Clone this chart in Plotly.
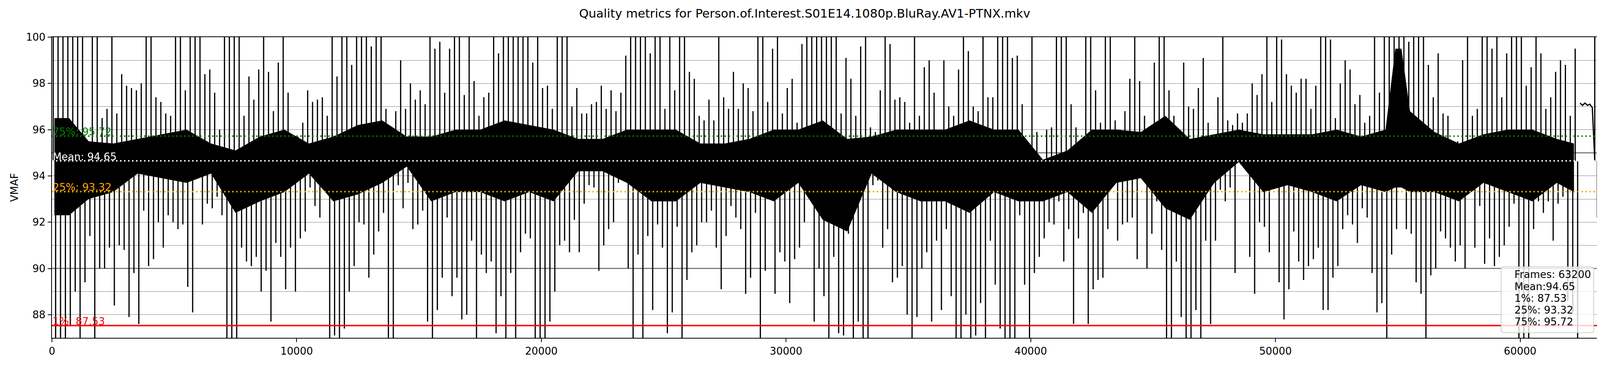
import plotly.graph_objects as go

# VMAF per frame, summarised as the highest / lowest score inside each 200-frame bin
BIN_FRAMES = 200
vmaf_hi = [
    100, 100, 100, 100, 100, 100, 100, 95.5, 100, 100, 96.5, 96.9, 100, 96.7, 98.4, 97.9, 97.8,
    97.7, 98, 100, 100, 97.4, 97.2, 96.7, 96.6, 100, 100, 97.7, 100, 100, 100, 98.4, 98.6, 97.6,
    96.0, 100, 100, 100, 100, 96.6, 98.3, 97.3, 98.6, 100, 98.5, 96.8, 98.9, 100, 97.6, 95.5,
    95.7, 96.3, 97.7, 97.2, 97.3, 97.4, 96.6, 100, 98.3, 100, 100, 98.8, 100, 100, 100, 99.6,
    100, 100, 96.9, 96.1,
    96.8, 99.0, 96.9, 98.0, 97.3, 97.7, 97.1, 100, 99.5, 99.8, 97.6, 99.5, 100, 100, 97.5, 100,
    98.1, 96.6, 97.4, 97.6, 100, 99.3, 100, 100, 100, 100, 100, 100, 98.9, 100, 97.8, 97.9,
    96.9, 100, 100,
    100, 97, 97.8, 96.7, 96.7, 97.1, 97.2, 97.9, 96.9, 97.7, 96.8, 97.6, 99.2, 100, 100, 100,
    100, 99.3, 100, 100, 96.9, 100, 97.7, 100, 100, 98.5, 98.2, 96.6, 96.4, 97.3, 96.4, 100,
    97.4, 96.9, 98.5,
    96.9, 98.0, 97.8, 96.8, 100, 100, 97.2, 99.5, 100, 96.7, 97.8, 98.2, 96.3, 99.7, 100, 100,
    100, 100, 100, 100, 100, 96.7, 99.1, 98.2, 96.6, 99.6, 100, 96.1, 95.9, 97.7, 100, 99.7,
    97.3, 97.4, 97.2,
    96.3, 100, 96.6, 98.7, 99.0, 97.6, 95.5, 99.0, 97.0, 96.6, 98.6, 100, 99.4, 97.0, 96.8, 100,
    97.4, 97.4, 100, 100, 100, 99.1, 99.2, 97.1, 95.4, 100, 95.9, 94.6, 96.0, 96.1, 100, 100,
    100, 97.1, 96.1, 95.5,
    100, 100, 97.7, 96.3, 100, 100, 96.4, 96.0, 96.8, 98.2, 100, 98.1, 96.6, 96.1, 98.9, 100,
    100, 97.7, 96.6, 96.0, 98.9, 97.0, 96.9, 97.8, 99.1, 96.3, 95.3, 97.4, 100, 96.4, 96.2,
    96.7, 96.3, 96.7, 98.0,
    97.5, 98.4, 100, 97.2, 100, 99.9, 98.4, 97.9, 97.6, 98.2, 98.2, 96.9, 97.9, 100, 100, 99.9,
    96.5, 98.0, 99.0, 98.6, 97.1, 97.5, 96.3, 96.6, 100, 97.6, 100, 100, 100, 100, 100, 99.8,
    100, 100, 100,
    98.8, 97.4, 99.3, 96.7, 96.6, 95.0, 95.5, 99.0, 100, 96.6, 96.9, 100, 100, 99.5, 100, 97.4,
    99.3, 100, 100, 100, 97.9, 98.7, 100, 99.3, 96.9, 97.4, 98.5, 99.0, 98.8, 96.6, 99.5,
    97.15, 97.15, 97.1, 100,
]
vmaf_lo = [
    86.5, 86.8, 86.5, 87.5, 89, 86.5, 89.4, 91.4, 86.5, 90, 90, 90.9, 88.4, 91, 90.8, 87.9, 89.8,
    87.6, 92.5, 90.1, 90.4, 92, 90.9, 92.3, 92, 91.7, 91.9, 89.2, 88.1, 94.0, 91.9, 92.8, 92.6,
    93.1,
    92.3, 86.8, 86.8, 86.8, 90.9, 90.3, 90.1, 90.5, 89.0, 89.9, 87.7, 91.1, 90.5, 89.1, 90.9,
    89.0, 91.3, 91.6, 93.5, 92.7, 92.2, 94.8, 86.8, 87.1, 86.8, 87.4, 89.0, 90.1, 92.0, 91.9,
    89.6, 90.6, 91.6, 92.4, 86.8, 86.8,
    93.6, 92.6, 93.7, 91.7, 91.9, 92.5, 87.7, 86.8, 88.2, 89.6, 92.2, 88.8, 89.6, 87.8, 88.0,
    91.2, 86.8, 90.6, 89.8, 90.3, 87.2, 88.8, 86.8, 89.8, 86.8, 90.7, 91.5, 91.3, 86.8, 87.0,
    86.8, 87.7, 89.0, 91.0, 91.2,
    90.7, 92.1, 90.7, 92.8, 93.6, 93.5, 89.9, 91.0, 91.7, 92.0, 93.7, 94.2, 90.0, 86.8, 90.6,
    86.8, 91.4, 88.2, 91.9, 90.9, 87.2, 88.1, 91.8, 86.8, 89.5, 90.7, 91.0, 92.0, 92.0, 92.5,
    90.9, 89.1, 91.4, 92.7, 92.2,
    91.7, 88.9, 89.6, 92.4, 86.8, 89.9, 93.3, 88.9, 90.7, 90.3, 88.5, 90.4, 90.9, 92.0, 93.0,
    87.7, 90.0, 88.8, 86.8, 90.5, 87.2, 87.1, 91.5, 86.8, 87.7, 86.8, 86.8, 93.6, 93.8, 90.9,
    91.7, 89.4, 89.6, 90.1, 88.0,
    86.8, 87.9, 90.0, 90.7, 87.7, 91.2, 88.2, 91.7, 88.8, 86.8, 86.8, 88.0, 87.0, 87.1, 88.5,
    86.8, 91.2, 89.3, 87.4, 86.8, 86.8, 86.8, 92.3, 89.3, 86.8, 89.8, 90.5, 91.3, 92.0, 91.9,
    92.9, 90.3, 91.7, 87.6, 91.3, 92.4,
    87.6, 89.1, 89.5, 89.6, 91.7, 93.8, 91.2, 91.9, 92.0, 92.2, 90.4, 94.2, 90.0, 91.5, 92.9,
    90.8, 86.8, 86.8, 90.3, 87.9, 86.8, 86.8, 88.2, 86.8, 91.2, 87.6, 91.2, 93.4, 92.9, 93.5,
    89.8, 94.7, 94.4, 90.5, 88.9,
    92.0, 91.8, 90.7, 94.5, 89.4, 87.8, 89.1, 91.6, 90.3, 89.5, 90.1, 90.4, 90.9, 88.2, 88.2,
    89.6, 90.1, 91.7, 92.3, 91.9, 91.1, 92.6, 92.2, 89.8, 88.1, 88.5, 86.8, 90.6, 91.7, 93.5,
    91.7, 91.5, 89.4, 88.9, 86.8,
    89.7, 90.0, 91.6, 91.3, 90.9, 90.3, 91.0, 90.0, 94.0, 90.9, 92.7, 90.2, 91.3, 90.1, 90.5,
    91.0, 91.8, 92.8, 86.8, 86.8, 86.8, 91.7, 92.9, 92.4, 92.9, 91.2, 92.8, 93.1, 88.6, 88.1,
    86.8, 97.05, 97.05, 96.95, 92.2,
]

# dense middle of the trace (where the frames overlap into solid black)
core_frames = [100, 700] + list(range(1500, 54500, 1000)) + [54500, 54900, 55150, 55500] \
    + list(range(56500, 62500, 1000)) + [62200]
core_hi = [
    96.5, 96.5, 95.5, 95.4, 95.6, 95.8, 96.0, 95.4, 95.1, 95.7, 96.0, 95.4, 95.7, 96.2, 96.4,
    95.7, 95.7, 96.0, 96.0, 96.4, 96.2, 96.0, 95.6, 95.6, 96.0, 96.0, 96.0, 95.4, 95.4, 95.6,
    96.0, 96.0, 96.4, 95.6, 95.7, 96.0, 96.0, 96.0, 96.4, 96.0, 96.0, 94.7, 95.1, 96.0, 96.0,
    95.9, 96.6, 95.6, 95.8, 96.0, 95.8, 95.8, 95.8, 96.0, 95.7, 96.0, 99.5, 99.5, 96.8, 95.9,
    95.4, 95.8, 96.0, 96.0, 95.6, 95.4,
]
core_lo = [
    92.3, 92.3, 93.0, 93.3, 94.1, 93.9, 93.7, 94.1, 92.4, 92.9, 93.3, 94.1, 92.9, 93.2, 93.7,
    94.4, 92.9, 93.3, 93.3, 92.9, 93.3, 92.9, 94.2, 94.2, 93.7, 92.9, 92.9, 93.7, 93.5, 93.3,
    92.9, 93.7, 92.1, 91.6, 94.1, 93.3, 92.9, 92.9, 92.4, 93.3, 92.9, 92.9, 93.3, 92.4, 93.7,
    93.9, 92.6, 92.1, 93.7, 94.6, 93.3, 93.6, 93.3, 92.9, 93.6, 93.3, 93.5, 93.5, 93.3, 93.3,
    92.9, 93.7, 93.3, 92.9, 93.7, 93.3,
]

total_frames = 63200
mean_v = 94.65
p1 = 87.53
p25 = 93.32
p75 = 95.72
y_ticks = [88, 90, 92, 94, 96, 98, 100]
x_ticks = [0, 10000, 20000, 30000, 40000, 50000, 60000]
title = "Quality metrics for Person.of.Interest.S01E14.1080p.BluRay.AV1-PTNX.mkv"
legend_lines = [
    f"Frames: {total_frames}",
    f"Mean:{mean_v:.2f}",
    f"1%: {p1:.2f}",
    f"25%: {p25:.2f}",
    f"75%: {p75:.2f}",
]

FONT = "DejaVu Sans"
# the page is photographed zoomed (about 4120 page px across the 4400 px picture),
# so sizes below are page pixels; the figure sits 8 px in from the page corner
ZOOM = 1.068
W, H = 4100, 918


def page(px):
    # picture pixel -> figure pixel
    return px / ZOOM - 8


L = page(142)
R = W - page(4370)
T = page(101)
B = H - page(923)
FS = 28 / ZOOM
LW = 2 / ZOOM

# reference geometry (pixels) of the plotting area, used to place the legend box
PX_L, PX_R, PX_T, PX_B = 142, 4370, 101, 923


def px_x(px):
    return (px - PX_L) / (PX_R - PX_L)


def px_y(py):
    return (PX_B - py) / (PX_B - PX_T)


# every bin becomes an upward stroke to its max and a downward stroke to its min
x_line, y_line = [], []
for i, (hi, lo) in enumerate(zip(vmaf_hi, vmaf_lo)):
    x_up = i * BIN_FRAMES + BIN_FRAMES / 4
    x_dn = i * BIN_FRAMES + 3 * BIN_FRAMES / 4
    if hi - lo < 0.5:
        # flat stretch: keep it a connected line
        x_line += [x_up, x_dn]
        y_line += [hi, lo]
        continue
    x_line += [x_up, x_up, None, x_dn, x_dn, None]
    y_line += [mean_v, hi, None, mean_v, lo, None]

fig = go.Figure()
fig.add_trace(go.Scatter(
    x=core_frames + core_frames[::-1],
    y=core_hi + core_lo[::-1],
    fill="toself", fillcolor="black", mode="lines",
    line=dict(width=0), hoverinfo="skip", showlegend=False,
))
fig.add_trace(go.Scatter(
    x=x_line, y=y_line, mode="lines", connectgaps=False,
    line=dict(color="black", width=3.1), showlegend=False,
))

# reference lines at 95 and 90
for v in (95, 90):
    fig.add_shape(type="line", xref="paper", x0=0, x1=1, y0=v, y1=v,
                  line=dict(color="black", width=LW), layer="below")

# percentile lines and their labels
stats = [
    (p75, "green", "dot", f"75%: {p75:.2f}"),
    (mean_v, "white", "dot", f"Mean: {mean_v:.2f}"),
    (p25, "orange", "dot", f"25%: {p25:.2f}"),
    (p1, "red", "solid", f"1%: {p1:.2f}"),
]
for v, color, dash, label in stats:
    fig.add_shape(type="line", xref="paper", x0=0, x1=1, y0=v, y1=v,
                  line=dict(color=color, width=3.75,
                            dash="3.75px,6.5px" if dash == "dot" else "solid"),
                  layer="above")
    fig.add_annotation(x=0, y=v, xref="x", yref="y", text=label, showarrow=False,
                       xanchor="left", yanchor="bottom", yshift=-6.3,
                       font=dict(family=FONT, size=FS, color=color))

# legend box with rounded corners, semi transparent
bx0, bx1, by0, by1, r = 4104, 4357, 729, 909, 7
path = (
    f"M {px_x(bx0 + r)} {px_y(by0)} L {px_x(bx1 - r)} {px_y(by0)} "
    f"Q {px_x(bx1)} {px_y(by0)} {px_x(bx1)} {px_y(by0 + r)} "
    f"L {px_x(bx1)} {px_y(by1 - r)} Q {px_x(bx1)} {px_y(by1)} {px_x(bx1 - r)} {px_y(by1)} "
    f"L {px_x(bx0 + r)} {px_y(by1)} Q {px_x(bx0)} {px_y(by1)} {px_x(bx0)} {px_y(by1 - r)} "
    f"L {px_x(bx0)} {px_y(by0 + r)} Q {px_x(bx0)} {px_y(by0)} {px_x(bx0 + r)} {px_y(by0)} Z"
)
fig.add_shape(type="path", xref="paper", yref="paper", path=path,
              fillcolor="rgba(255,255,255,0.8)", line=dict(color="#cccccc", width=LW),
              layer="above")
for k, line in enumerate(legend_lines):
    baseline = 761.7 + k * 32.3
    fig.add_annotation(x=px_x(4138), y=px_y(baseline), xref="paper", yref="paper",
                       text=line, showarrow=False, xanchor="left", yanchor="bottom",
                       yshift=-6.3, font=dict(family=FONT, size=FS, color="black"))

fig.update_layout(
    width=W, height=H,
    margin=dict(l=L, r=R, t=T, b=B),
    paper_bgcolor="white", plot_bgcolor="white",
    font=dict(family=FONT, size=FS, color="black"),
    title=dict(text=title, x=page(2200) / W, xref="container", xanchor="center",
               y=1 - page(37) / H, yref="container", yanchor="middle",
               font=dict(family=FONT, size=33 / ZOOM, color="black")),
    showlegend=False,
)
fig.update_xaxes(
    range=[0, total_frames], tickvals=x_ticks, tickformat="d",
    showgrid=False, zeroline=False,
    showline=True, linecolor="black", linewidth=LW, mirror=True,
    ticks="outside", ticklen=9.4, tickwidth=LW, tickcolor="black",
    tickfont=dict(family=FONT, size=FS),
)
fig.update_yaxes(
    range=[87.0, 100], tickvals=y_ticks,
    showgrid=True, gridcolor="#808080", gridwidth=1.4,
    minor=dict(dtick=1, tick0=0, showgrid=True, gridcolor="#808080", gridwidth=1.4),
    zeroline=False,
    showline=True, linecolor="black", linewidth=LW, mirror=True,
    ticks="outside", ticklen=9.4, tickwidth=LW, tickcolor="black",
    tickfont=dict(family=FONT, size=FS),
    title=dict(text="VMAF", font=dict(family=FONT, size=FS), standoff=12),
)

fig.write_html("out.html")
